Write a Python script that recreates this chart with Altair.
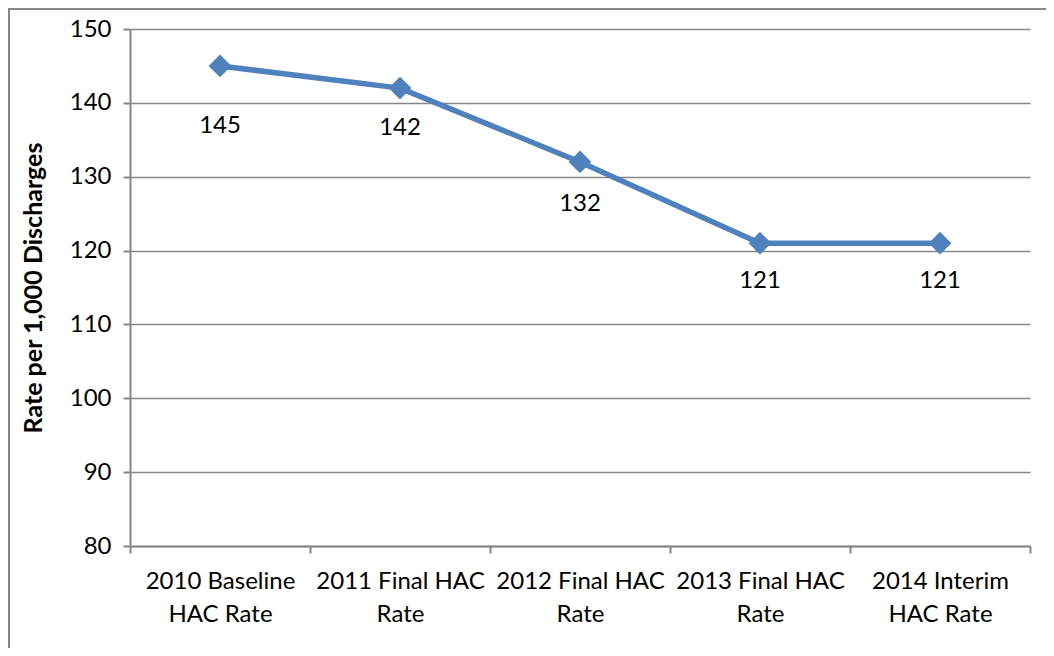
import altair as alt
import pandas as pd

categories = ["2010 Baseline\nHAC Rate", "2011 Final HAC\nRate", "2012 Final HAC\nRate",
              "2013  Final HAC\nRate", "2014 Interim\nHAC Rate"]
rates = [145, 142, 132, 121, 121]
label_dy = [60, 40, 42, 38, 38]

df = pd.DataFrame({"cat": categories, "rate": rates, "dy": label_dy})

FONT = "Lato"
GRAY = "#878787"
BLUE = "#4F81BD"

x = alt.X("cat:N", sort=categories, title=None,
          scale=alt.Scale(paddingInner=0, paddingOuter=0),
          axis=alt.Axis(labelAngle=0, labelExpr="split(datum.label, '\\n')",
                        labelFont=FONT, labelFontSize=24, labelColor="black",
                        labelLineHeight=33, labelPadding=16, labelBaseline="top",
                        domainColor=GRAY, domainWidth=2, tickColor=GRAY, tickWidth=2,
                        tickSize=7, tickBand="extent", grid=False))
y = alt.Y("rate:Q", title="Rate per 1,000 Discharges",
          scale=alt.Scale(domain=[80, 150], nice=False, zero=False),
          axis=alt.Axis(values=list(range(80, 151, 10)), labelFont=FONT, labelFontSize=24,
                        labelColor="black", labelPadding=12,
                        titleFont=FONT, titleFontSize=25, titleFontWeight="bold",
                        titleColor="black", titlePadding=23,
                        domainColor=GRAY, domainWidth=2, tickColor=GRAY, tickWidth=2,
                        tickSize=7, grid=True, gridColor=GRAY, gridWidth=1.5))

frame_left = alt.Chart(df).mark_rule(color=GRAY, strokeWidth=2).encode(
    x=alt.value(-121), y=alt.value(-20), y2=alt.value(700))
frame_top = alt.Chart(df).mark_rule(color=GRAY, strokeWidth=2).encode(
    x=alt.value(-122), x2=alt.value(1000), y=alt.value(-20))

base = alt.Chart(df)
line = base.mark_line(color=BLUE, strokeWidth=5.5).encode(x=x, y=y)
pts = base.mark_point(shape="diamond", filled=True, color=BLUE, size=520, opacity=1).encode(x=x, y=y)

label_layers = []
for d in sorted(set(label_dy)):
    label_layers.append(
        base.transform_filter(alt.datum.dy == d)
        .mark_text(font=FONT, fontSize=24, color="black", dy=d)
        .encode(x=x, y=y, text="rate:Q"))

chart = alt.layer(frame_left, frame_top, line, pts, *label_layers).properties(
    width=900, height=517,
    padding={"left": 122, "top": 21, "right": 16, "bottom": 102},
    autosize=alt.AutoSizeParams(type="none"),
    background="white",
).configure_view(stroke=None)

chart.save("out.html", embed_options={"renderer": "svg", "actions": False})
